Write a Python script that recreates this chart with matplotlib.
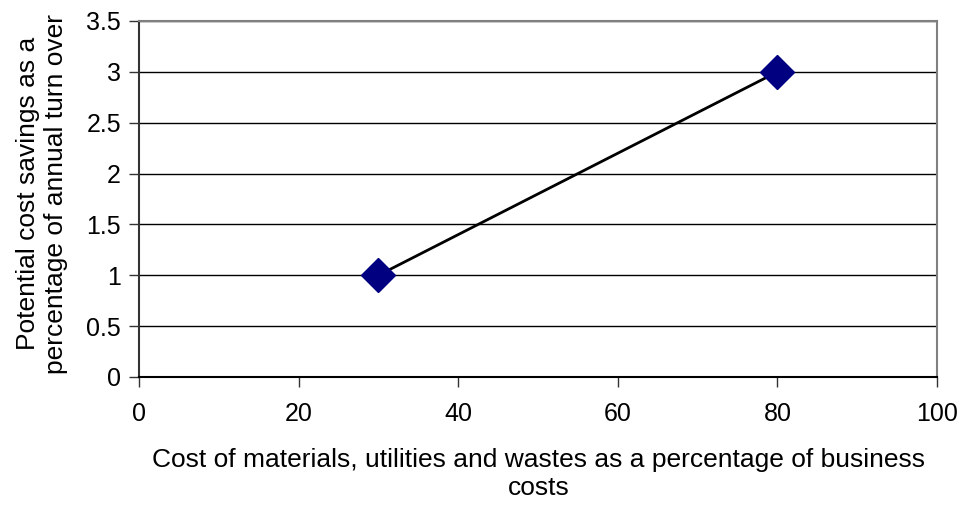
import matplotlib
matplotlib.use('Agg')
from matplotlib import pyplot as plt

plt.rcParams['font.family'] = ['Liberation Sans', 'DejaVu Sans']

x_values = [30, 80]
y_values = [1, 3]
x_ticks = [0, 20, 40, 60, 80, 100]
y_ticks = [0, 0.5, 1, 1.5, 2, 2.5, 3, 3.5]
y_tick_labels = ['0', '0.5', '1', '1.5', '2', '2.5', '3', '3.5']

fig = plt.figure(figsize=(9.6, 5.05), dpi=100)
ax = fig.add_axes([139 / 960, 1 - 377 / 505, (937 - 139) / 960, (377 - 21) / 505])

ax.plot(x_values, y_values, color='black', linewidth=2, marker='D',
        markersize=17, markerfacecolor='#000080', markeredgecolor='#000080',
        zorder=3, clip_on=False)

ax.set_xlim(0, 100)
ax.set_ylim(0, 3.5)
ax.set_xticks(x_ticks)
ax.set_yticks(y_ticks)
ax.set_yticklabels(y_tick_labels)
ax.yaxis.grid(True, color='black', linewidth=1)
ax.set_axisbelow(True)

ax.spines['top'].set_color('#808080')
ax.spines['right'].set_color('#808080')
ax.spines['top'].set_linewidth(1.5)
ax.spines['right'].set_linewidth(1.5)
ax.spines['left'].set_color('#333333')
ax.spines['bottom'].set_color('black')
ax.spines['left'].set_linewidth(1.5)
ax.spines['bottom'].set_linewidth(1.5)

ax.tick_params(axis='both', direction='out', length=7, width=1, colors='#333333',
               labelcolor='black', labelsize=18)
ax.tick_params(axis='x', pad=11)
ax.tick_params(axis='y', pad=6)

ax.set_xlabel('Cost of materials, utilities and wastes as a percentage of business\ncosts',
              fontsize=19, linespacing=1.22)
ax.xaxis.set_label_coords(0.501, -0.2)
ax.set_ylabel('Potential cost savings as a\npercentage of annual turn over',
              fontsize=19, linespacing=1.22)
ax.yaxis.set_label_coords(-0.089, 0.515)

fig.savefig('out.png', dpi=100)
